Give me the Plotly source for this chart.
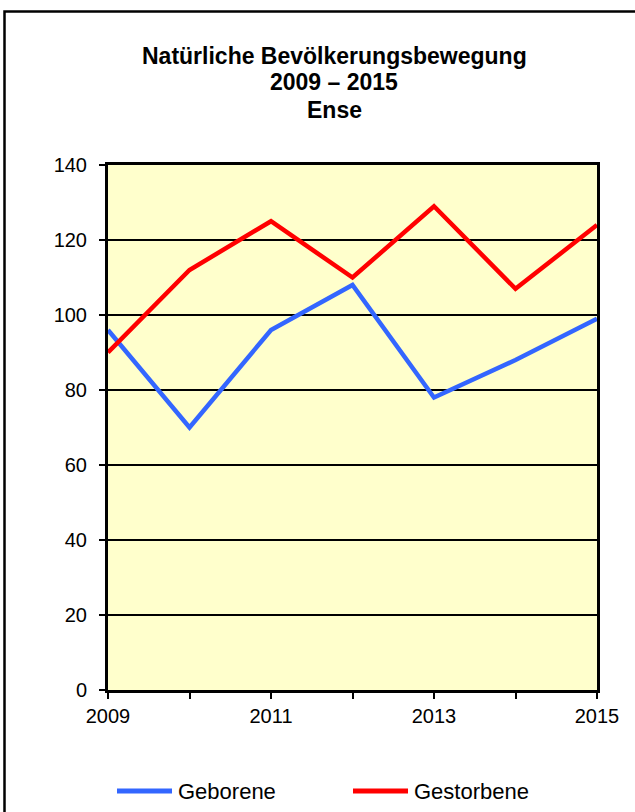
import plotly.graph_objects as go

years = [2009, 2010, 2011, 2012, 2013, 2014, 2015]
geborene = [96, 70, 96, 108, 78, 88, 99]
gestorbene = [90, 112, 125, 110, 129, 107, 124]
tick_years = [2009, 2011, 2013, 2015]
y_ticks = [0, 20, 40, 60, 80, 100, 120, 140]
series_names = ["Geborene", "Gestorbene"]
series_colors = ["#3366FF", "#FF0000"]
title_lines = ["Natürliche Bevölkerungsbewegung", "2009 – 2015", "Ense"]

W, H = 635, 812
L, R, T, B = 108, 38, 165, 122
pw, ph = W - L - R, H - T - B

def px_x(x):
    return (x - L) / pw

def px_y(y):
    return (H - B - y) / ph

font = "Liberation Sans, Arial, sans-serif"

fig = go.Figure()
for name, vals, col in zip(series_names, [geborene, gestorbene], series_colors):
    fig.add_trace(go.Scatter(x=years, y=vals, mode="lines", name=name,
                             line=dict(color=col, width=4.5), showlegend=False))

annotations = []
for txt, base in zip(title_lines, [64, 90, 118]):
    annotations.append(dict(text="<b>%s</b>" % txt, x=px_x(334), y=px_y(base + 6),
                            xref="paper", yref="paper", xanchor="center", yanchor="bottom",
                            showarrow=False, borderpad=0,
                            font=dict(size=23, family=font, color="black")))

shapes = [dict(type="rect", xref="paper", yref="paper",
               x0=px_x(4.5), x1=px_x(660), y0=px_y(840), y1=px_y(11.5),
               line=dict(color="black", width=2.5), layer="below")]

# legend (manual, to match long line samples)
for name, col, x0 in zip(series_names, series_colors, [117, 353]):
    shapes.append(dict(type="line", xref="paper", yref="paper",
                       x0=px_x(x0), x1=px_x(x0 + 55), y0=px_y(791), y1=px_y(791),
                       line=dict(color=col, width=5)))
    annotations.append(dict(text=name, x=px_x(x0 + 59), y=px_y(791), xref="paper", yref="paper",
                            xanchor="left", yanchor="middle", showarrow=False,
                            font=dict(size=22, family=font, color="black")))

fig.update_layout(
    width=W, height=H,
    margin=dict(l=L, r=R, t=T, b=B),
    paper_bgcolor="white",
    plot_bgcolor="#FFFFCC",
    font=dict(family=font, size=20, color="black"),
    showlegend=False,
    annotations=annotations,
    shapes=shapes,
)

fig.update_xaxes(range=[2009, 2015], tickvals=years,
                 ticktext=[str(y) if y in tick_years else "" for y in years],
                 ticks="outside", ticklen=6, tickwidth=2, tickcolor="black",
                 ticklabelstandoff=0,
                 showline=True, linecolor="black", linewidth=3, mirror=True,
                 showgrid=False, zeroline=False, tickfont=dict(size=20))
fig.update_yaxes(range=[0, 140], tickvals=y_ticks,
                 ticks="outside", ticklen=6, tickwidth=2, tickcolor="black",
                 ticklabelstandoff=8,
                 showline=True, linecolor="black", linewidth=3, mirror=True,
                 showgrid=True, gridcolor="black", gridwidth=2, zeroline=False,
                 tickfont=dict(size=20))

fig.write_html("out.html", config={"displayModeBar": False},
               post_script="document.body.style.margin='0';document.body.style.overflow='hidden';")
